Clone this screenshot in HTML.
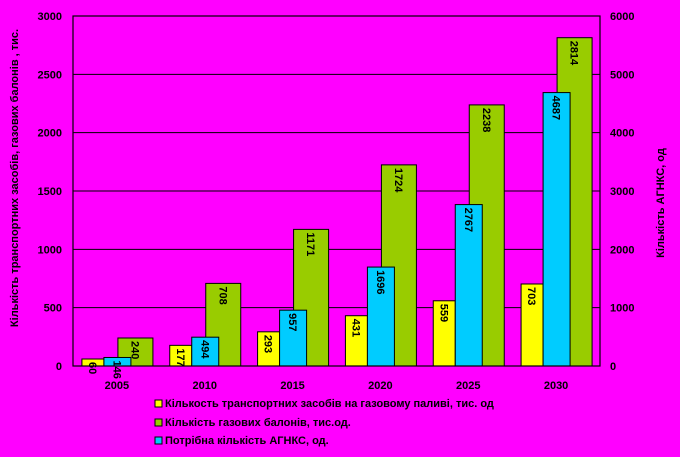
<!DOCTYPE html>
<html><head><meta charset="utf-8"><style>
html,body{margin:0;padding:0;background:#FF00FF;}
svg{display:block;font-family:"Liberation Sans",Arial,sans-serif;}
.t{font-size:11px;font-weight:bold;fill:#000;}
</style></head><body>
<svg id="chart" width="680" height="457" viewBox="0 0 680 457">
<rect x="0" y="0" width="680" height="457" fill="#FF00FF"/>
<g id="grid"></g>
<g id="bars"></g>
<g id="axes"></g>
<text class="t" transform="translate(18,178) rotate(-90)" text-anchor="middle">Кількість транспортних засобів, газових балонів , тис.</text>
<text class="t" transform="translate(664,203) rotate(-90)" text-anchor="middle">Кількість АГНКС, од</text>
<g>
<g><rect x="155" y="400" width="7" height="7" fill="#FFFF00" stroke="#000"/><text class="t" x="165" y="407">Кількость транспортних засобів на газовому паливі,  тис. од</text></g>
<g><rect x="155" y="419" width="7" height="7" fill="#99CC00" stroke="#000"/><text class="t" x="165" y="426">Кількість газових балонів, тис.од.</text></g>
<g><rect x="155" y="437" width="7" height="7" fill="#00CCFF" stroke="#000"/><text class="t" x="165" y="444">Потрібна кількість АГНКС, од.</text></g>
</g>
</svg>
<script>
const categories = ["2005","2010","2015","2020","2025","2030"];
const vehicles = [60,177,293,431,559,703];
const balloons = [240,708,1171,1724,2238,2814];
const stations = [146,494,957,1696,2767,4687];
const leftTicks = [0,500,1000,1500,2000,2500,3000];
const rightTicks = [0,1000,2000,3000,4000,5000,6000];

const NS="http://www.w3.org/2000/svg";
const X0=73,X1=600,Y0=366,Y1=16;
const leftMax=3000,rightMax=6000;
const yL=v=>Y0-(v/leftMax)*(Y0-Y1);
const yR=v=>Y0-(v/rightMax)*(Y0-Y1);
const band=(X1-X0)/categories.length;
const xc=i=>X0+band*(i+0.5);
function mk(tag,attrs,parent){const e=document.createElementNS(NS,tag);for(const k in attrs)e.setAttribute(k,attrs[k]);parent.appendChild(e);return e;}
const grid=document.getElementById('grid'),bars=document.getElementById('bars'),axes=document.getElementById('axes');

leftTicks.forEach((v,i)=>{
  const y=yL(v);
  if(v>0){const l=mk('line',{x1:X0,x2:X1,y1:y,y2:y,stroke:'#000','stroke-width':1},grid);
  
  }
  const t=mk('text',{x:62,y:y+4,'text-anchor':'end',class:'t'},axes);t.textContent=v;
  
  
});
rightTicks.forEach(v=>{
  const y=yR(v);
  const t=mk('text',{x:610,y:y+4,class:'t'},axes);t.textContent=v;
  
  
});
const frame=mk('rect',{x:X0,y:Y1,width:X1-X0,height:Y0-Y1,fill:'none',stroke:'#000','stroke-width':1.2},axes);



function bar(x,w,y,fill,val,name){
  const r=mk('rect',{x:x,y:y,width:w,height:Y0-y,fill:fill,stroke:'#000','stroke-width':1},bars);
  
  
  const tx=x+w/2-4, ty=y+3;
  const t=mk('text',{class:'t',transform:`translate(${tx},${ty}) rotate(90)`,'font-size':'12'},bars);
  t.textContent=val;
  
  
}
categories.forEach((c,i)=>{
  const cx=xc(i);
  bar(cx+1,35,yL(balloons[i]),'#99CC00',balloons[i],'bar-balloons-'+c);
  bar(cx-35,22,yL(vehicles[i]),'#FFFF00',vehicles[i],'bar-vehicles-'+c);
  bar(cx-13,27,yR(stations[i]),'#00CCFF',stations[i],'bar-stations-'+c);
  const t=mk('text',{x:cx,y:389,'text-anchor':'middle',class:'t'},axes);t.textContent=c;
  
  
});
</script>
</body></html>
